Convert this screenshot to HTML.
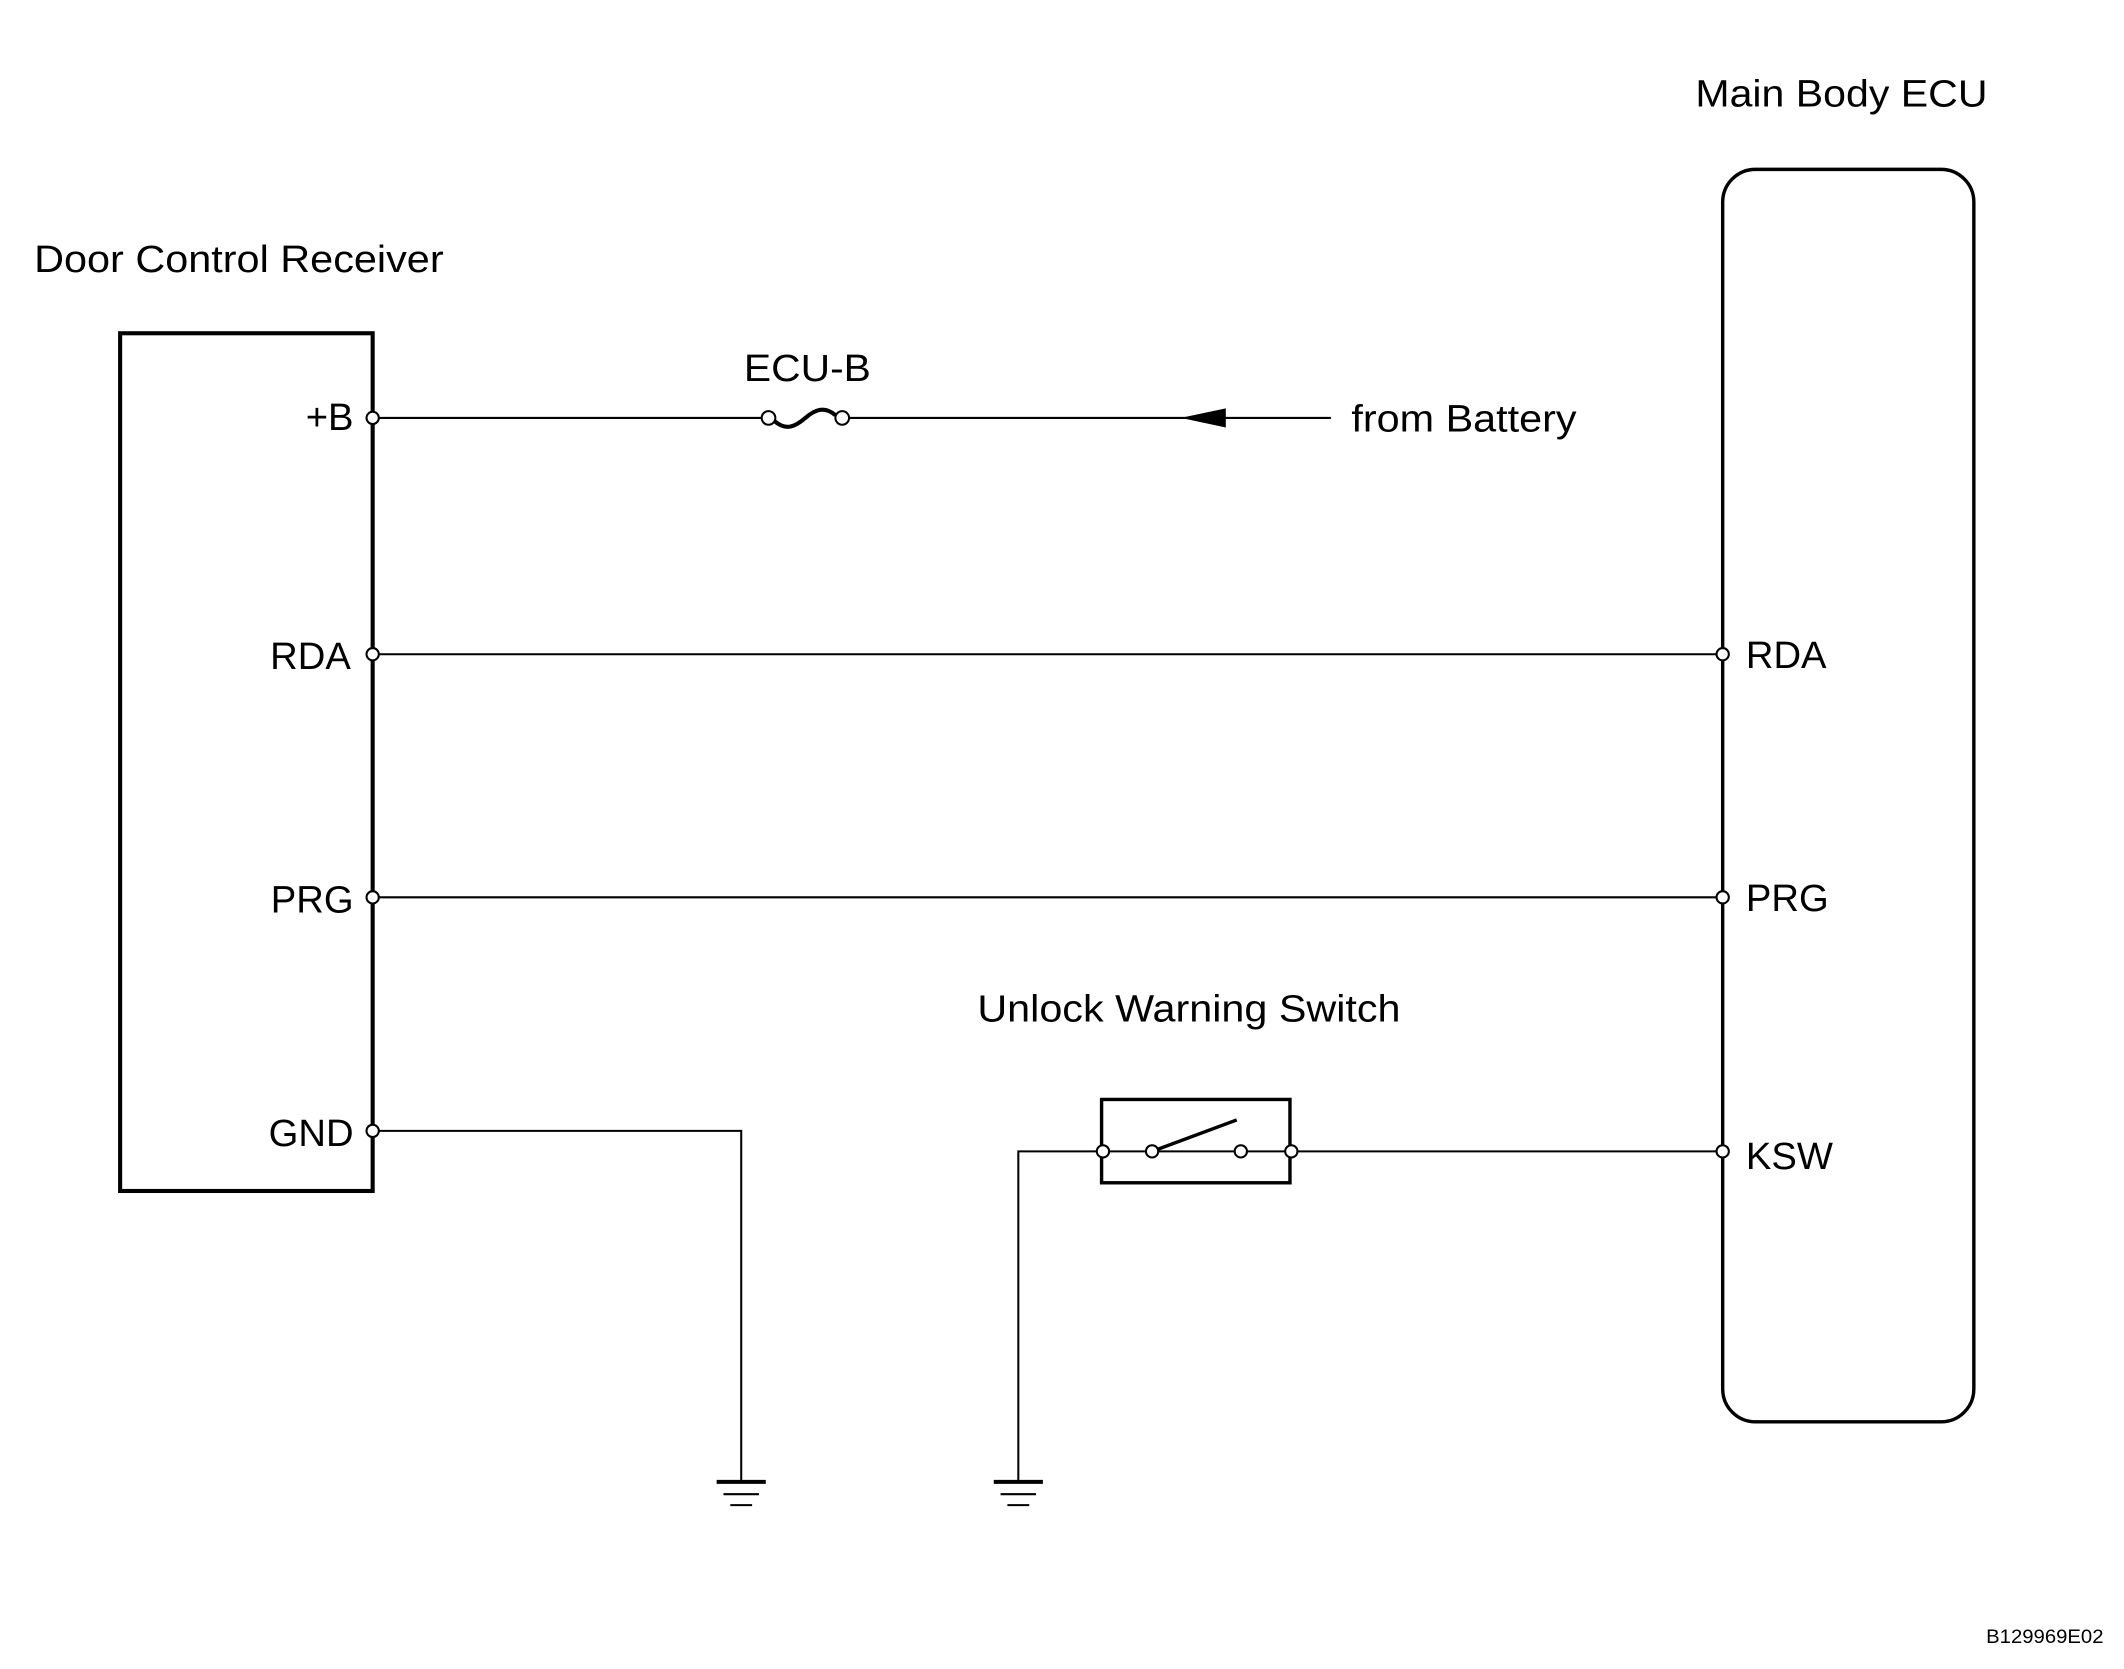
<!DOCTYPE html>
<html><head><meta charset="utf-8"><style>html,body{margin:0;padding:0;background:#fff}svg{display:block}</style></head>
<body>
<svg width="2124" height="1669" viewBox="0 0 1556 1222" preserveAspectRatio="none" xmlns="http://www.w3.org/2000/svg" font-family="Liberation Sans, sans-serif" fill="#000">
<g font-size="28">
<text x="25" y="199" textLength="300" lengthAdjust="spacingAndGlyphs">Door Control Receiver</text>
<text x="1242" y="78" textLength="214" lengthAdjust="spacingAndGlyphs">Main Body ECU</text>
<text x="545" y="279" textLength="93" lengthAdjust="spacingAndGlyphs">ECU-B</text>
<text x="990" y="316" textLength="165" lengthAdjust="spacingAndGlyphs">from Battery</text>
<text x="716" y="748" textLength="310" lengthAdjust="spacingAndGlyphs">Unlock Warning Switch</text>
<text x="259" y="315" text-anchor="end">+B</text>
<text x="257" y="490" text-anchor="end">RDA</text>
<text x="259" y="668" text-anchor="end">PRG</text>
<text x="259" y="839" text-anchor="end">GND</text>
<text x="1279" y="489">RDA</text>
<text x="1279" y="667">PRG</text>
<text x="1279" y="856">KSW</text>
</g>
<text x="1455" y="1203" font-size="14" textLength="86" lengthAdjust="spacingAndGlyphs">B129969E02</text>
<g fill="none" stroke="#000">
<rect x="88" y="244" width="185" height="628" stroke-width="3"/>
<rect x="1262" y="124" width="184" height="917" rx="24" stroke-width="2.5"/>
<g stroke-width="1.5">
<line x1="273" y1="306" x2="558" y2="306"/>
<line x1="622" y1="306" x2="975" y2="306"/>
<path d="M567 308 C576 316 583 312 590 306 C597 300 604 297 612 304" stroke-width="3"/>
<line x1="273" y1="479" x2="1262" y2="479"/>
<line x1="273" y1="657" x2="1262" y2="657"/>
<polyline points="273,828 543,828 543,1084"/>
<polyline points="808,843 746,843 746,1084"/>
<line x1="808" y1="843" x2="946" y2="843"/>
<line x1="946" y1="843" x2="1262" y2="843"/>
</g>
<rect x="807" y="805" width="138" height="61" stroke-width="2.5"/>
<line x1="844" y1="843" x2="906" y2="820" stroke-width="2.5"/>
<g stroke-width="3"><line x1="525" y1="1085" x2="561" y2="1085"/><line x1="728" y1="1085" x2="764" y2="1085"/></g>
<g stroke-width="1.5"><line x1="530" y1="1094" x2="556" y2="1094"/><line x1="535" y1="1102" x2="551" y2="1102"/>
<line x1="733" y1="1094" x2="759" y2="1094"/><line x1="738" y1="1102" x2="754" y2="1102"/></g>
<g fill="#fff" stroke-width="1.5">
<circle cx="273" cy="306" r="4.5"/><circle cx="273" cy="479" r="4.5"/><circle cx="273" cy="657" r="4.5"/><circle cx="273" cy="828" r="4.5"/>
<circle cx="1262" cy="479" r="4.5"/><circle cx="1262" cy="657" r="4.5"/><circle cx="1262" cy="843" r="4.5"/>
<circle cx="563" cy="306" r="5"/><circle cx="617" cy="306" r="5"/>
<circle cx="808" cy="843" r="4.5"/><circle cx="844" cy="843" r="4.5"/><circle cx="909" cy="843" r="4.5"/><circle cx="946" cy="843" r="4.5"/>
</g>
</g>
<polygon points="865,306 898,299 898,313"/>
</svg>
</body></html>
